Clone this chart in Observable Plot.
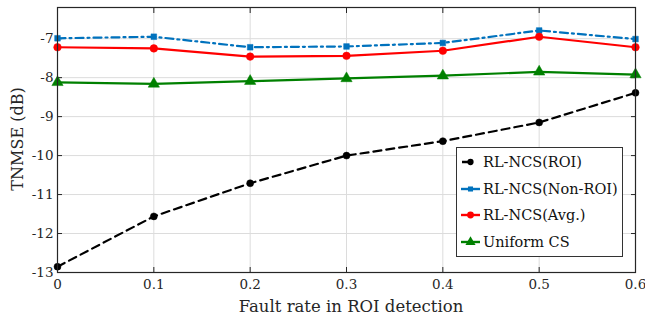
<!DOCTYPE html>
<html>
<head>
<meta charset="utf-8">
<script src="https://cdn.jsdelivr.net/npm/d3@7"></script>
<script src="https://cdn.jsdelivr.net/npm/@observablehq/plot@0.6"></script>
<style>
  body { margin: 0; background: #fff; }
  #wrap { position: relative; width: 645px; height: 320px; font-family: 'DejaVu Serif', serif !important; }
  #wrap svg, #wrap svg text { font-family: 'DejaVu Serif', serif !important; }
  #legend { position: absolute; left: 456px; top: 147px; width: 165px; height: 108px; border: 1px solid #333; background: #fff; }
  .row { position: absolute; left: 3px; height: 20px; display: flex; align-items: center; font-size: 14.5px; color: #111; font-family: 'DejaVu Serif', serif !important; white-space: nowrap; }
  .row svg { margin-right: 1px; }
</style>
</head>
<body>
<div id="wrap"></div>
<script>
const faultRate = [0, 0.1, 0.2, 0.3, 0.4, 0.5, 0.6];
const roi = [-12.85, -11.56, -10.71, -10.0, -9.63, -9.15, -8.39];
const nonRoi = [-6.99, -6.95, -7.22, -7.20, -7.11, -6.79, -7.01];
const avg = [-7.22, -7.25, -7.46, -7.44, -7.31, -6.95, -7.22];
const uniform = [-8.12, -8.16, -8.09, -8.02, -7.95, -7.85, -7.92];
const xTicks = [0, 0.1, 0.2, 0.3, 0.4, 0.5, 0.6];
const yTicks = [-13, -12, -11, -10, -9, -8, -7];

const seriesNames = ["RL-NCS(ROI)", "RL-NCS(Non-ROI)", "RL-NCS(Avg.)", "Uniform CS"];
const seriesValues = [roi, nonRoi, avg, uniform];
const colors = ["#000000", "#0072BD", "#FF0000", "#008000"];
const symbols = ["circle", "square", "circle", "triangle"];
const radii = [3.5, 3.2, 3.8, 4.2];
const dashes = ["8,5", "8,4,2,4", null, null];

const series = seriesNames.map((name, i) => faultRate.map((x, j) => ({x, y: seriesValues[i][j], name})));

const marks = [
  Plot.gridX(xTicks, {stroke: "#dcdcdc", strokeOpacity: 1}),
  Plot.gridY(yTicks, {stroke: "#dcdcdc", strokeOpacity: 1}),
  Plot.axisX(xTicks, {anchor: "bottom", tickSize: -5, tickPadding: 12, tickFormat: d => String(d), fontSize: 13.5, label: null, stroke: "#262626", fill: "#262626"}),
  Plot.axisX(xTicks, {anchor: "top", tickSize: -5, tickFormat: () => "", label: null, stroke: "#262626"}),
  Plot.axisY(yTicks, {anchor: "left", tickSize: -5, tickPadding: 9, tickFormat: d => String(d), fontSize: 13.5, label: null, stroke: "#262626", fill: "#262626"}),
  Plot.axisY(yTicks, {anchor: "right", tickSize: -5, tickFormat: () => "", label: null, stroke: "#262626"}),
];
series.forEach((data, i) => {
  marks.push(Plot.line(data, {x: "x", y: "y", stroke: colors[i], strokeWidth: 2.2, strokeDasharray: dashes[i]}));
  marks.push(Plot.dot(data, {x: "x", y: "y", fill: colors[i], stroke: colors[i], strokeWidth: 0.5, symbol: symbols[i], r: radii[i]}));
});
marks.push(Plot.frame({stroke: "#262626", strokeWidth: 1.2}));

const chart = Plot.plot({
  width: 645,
  height: 320,
  marginLeft: 57,
  marginRight: 10,
  marginTop: 7,
  marginBottom: 48,
  style: {fontFamily: "DejaVu Serif, serif", fontSize: "13.5px", color: "#262626", background: "#fff"},
  x: {domain: [0, 0.6]},
  y: {domain: [-13, -6.2]},
  marks
});
const wrap = document.getElementById("wrap");
wrap.appendChild(chart);

// axis titles as real text in the SVG
const svgSel = d3.select(chart.tagName.toLowerCase() === "svg" ? chart : chart.querySelector("svg"));
svgSel.append("text")
  .attr("x", 351).attr("y", 312)
  .attr("text-anchor", "middle")
  .attr("font-size", 16.5).attr("fill", "#262626")
  .style("font-family", "'DejaVu Serif', serif")
  .text("Fault rate in ROI detection");
svgSel.append("text")
  .attr("transform", "translate(23,139) rotate(-90)")
  .attr("text-anchor", "middle")
  .attr("font-size", 16).attr("fill", "#262626")
  .style("font-family", "'DejaVu Serif', serif")
  .text("TNMSE (dB)");

const legend = document.createElement("div");
legend.id = "legend";
const ns = "http://www.w3.org/2000/svg";
seriesNames.forEach((name, i) => {
  const row = document.createElement("div");
  row.className = "row";
  row.style.top = (4 + i * 26.5) + "px";
  const svg = document.createElementNS(ns, "svg");
  svg.setAttribute("width", 22); svg.setAttribute("height", 12);
  const l = document.createElementNS(ns, "line");
  l.setAttribute("x1", 1); l.setAttribute("x2", 20); l.setAttribute("y1", 6); l.setAttribute("y2", 6);
  l.setAttribute("stroke", colors[i]); l.setAttribute("stroke-width", 2.4);
  if (dashes[i]) l.setAttribute("stroke-dasharray", i === 0 ? "7,3" : "20");
  if (i === 0) { l.setAttribute("x1", 2); l.setAttribute("x2", 13); }
  svg.appendChild(l);
  const sym = d3.symbol().type(symbols[i] === "square" ? d3.symbolSquare : symbols[i] === "triangle" ? d3.symbolTriangle : d3.symbolCircle).size(Math.PI * radii[i] * radii[i] * 0.8);
  const p = document.createElementNS(ns, "path");
  p.setAttribute("d", sym()); p.setAttribute("transform", "translate(10.5,6)");
  p.setAttribute("fill", colors[i]);
  svg.appendChild(p);
  row.appendChild(svg);
  const t = document.createElement("span");
  t.textContent = name;
  row.appendChild(t);
  legend.appendChild(row);
});
wrap.appendChild(legend);
</script>
</body>
</html>
